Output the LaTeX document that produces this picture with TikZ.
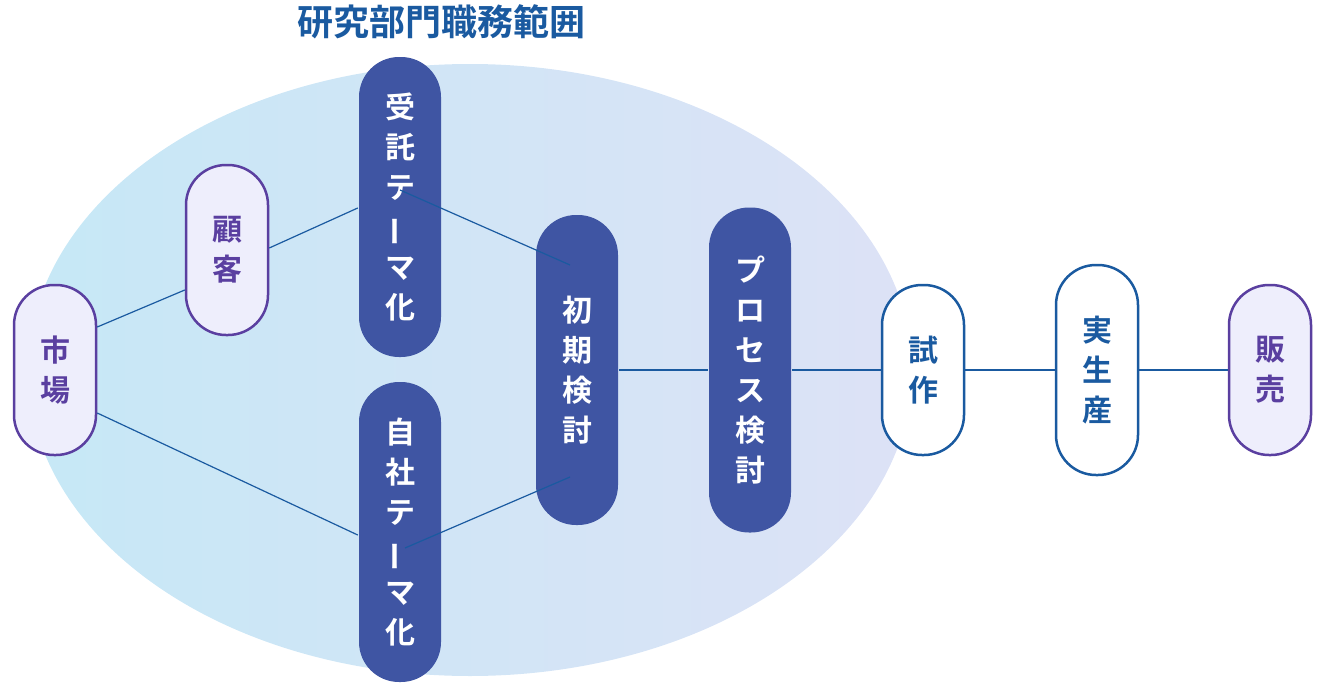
\documentclass[tikz,border=0pt]{standalone}
\usepackage{fontspec}
\newfontfamily\jp{Noto Sans CJK JP Bold}
\usetikzlibrary{calc}
\definecolor{lineblue}{HTML}{1A5AA0}
\definecolor{darkpill}{HTML}{3F55A3}
\definecolor{lightpill}{HTML}{EEEEFC}
\definecolor{purpleline}{HTML}{5A3FA0}
\definecolor{ellleft}{HTML}{C6E8F6}
\definecolor{ellright}{HTML}{DDE2F6}
\newcommand\vbar{\rotatebox[origin=c]{90}{ー}}
\tikzset{
  pill/.style={rectangle, rounded corners=40pt, minimum width=82pt, line width=2.5pt,
    align=center, font=\jp\fontsize{30}{40}\selectfont, inner sep=0pt},
  outer/.style={pill, fill=lightpill, draw=purpleline, text=purpleline},
  inner/.style={pill, fill=darkpill, draw=none, text=white},
  plant/.style={pill, fill=white, draw=lineblue, text=lineblue},
  link/.style={draw=lineblue, line width=1.2pt}
}
\begin{document}
\begin{tikzpicture}[x=1pt,y=-1pt]
\useasboundingbox (0,0) rectangle (1328,696);
\shade[left color=ellleft, right color=ellright] (470,370) ellipse [x radius=442pt, y radius=306pt];
\node[text=lineblue, font=\jp\fontsize{36}{40}\selectfont] (title) at (441,22) {研究部門職務範囲};

% connectors drawn first
\coordinate (j1) at (400,190);
\coordinate (s1) at (405,548);
\coordinate (k1) at (570,265);
\coordinate (k2) at (570,477);

\node[outer, minimum height=170pt] (ichiba) at (55,370) {市\\場};
\node[outer, minimum height=170pt] (kokyaku) at (227,250) {顧\\客};
\node[inner, minimum height=300pt] (jutaku) at (400,207) {受\\託\\テ\\\vbar\\マ\\化};
\node[inner, minimum height=300pt] (jisha) at (400,532) {自\\社\\テ\\\vbar\\マ\\化};
\node[inner, minimum height=310pt] (shoki) at (577,370) {初\\期\\検\\討};
\node[inner, minimum height=325pt] (process) at (750,370) {プ\\ロ\\セ\\ス\\検\\討};
\node[plant, minimum height=170pt] (shisaku) at (923,370) {試\\作};
\node[plant, minimum height=210pt] (seisan) at (1097,370) {実\\生\\産};
\node[outer, minimum height=170pt] (hanbai) at (1270,370) {販\\売};

\draw[link] ($(ichiba.east)+(0,-43)$) -- ($(kokyaku.west)+(0,40)$);
\draw[link] ($(kokyaku.east)+(0,-2)$) -- ($(jutaku.west)+(0,1)$);
\draw[link] (j1) -- (k1);
\draw[link] ($(ichiba.east)+(0,43)$) -- ($(jisha.west)+(0,3)$);
\draw[link] (s1) -- (k2);
\draw[link] (shoki) -- (process);
\draw[link] (process) -- (shisaku);
\draw[link] (shisaku) -- (seisan);
\draw[link] (seisan) -- (hanbai);
\end{tikzpicture}
\end{document}
